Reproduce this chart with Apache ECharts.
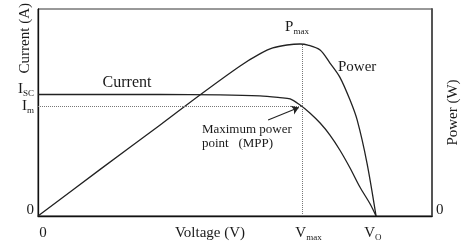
<!DOCTYPE html>
<html>
<head>
<meta charset="utf-8">
<script src="https://cdn.jsdelivr.net/npm/echarts@6/dist/echarts.min.js"></script>
<style>
  html, body { margin: 0; padding: 0; background: #fff; }
  #chart { width: 470px; height: 246px; }
</style>
</head>
<body>
<div id="chart"></div>
<script>
// curves (arbitrary units, axes run 0..100)
const voltageI = [0, 15.7, 31, 46.2, 56.3, 61.4, 64, 66.5, 69, 71.6, 74.1, 76.6, 79.2, 81.7, 84.3, 85.8]
const current  = [58.7, 58.7, 58.7, 58.5, 58.0, 57.2, 56.6, 53.6, 49.8, 44.9, 39.1, 31.9, 23.2, 14.0, 5.8, 0]
const voltageP = [0, 15.7, 31, 41.1, 51.3, 56.3, 59.6, 63.2, 66.5, 68.5, 71.6, 74.1, 76.6, 79.2, 81, 83.5, 85.8]
const power    = [0, 22.4, 44, 58.5, 72.5, 78.3, 81.2, 82.6, 83.1, 82.6, 80.2, 73.9, 67.1, 56, 46.4, 25.6, 0]

const VMAX = 67, VO = 86, ISC = 58.5, IM = 53, PMAX = 83

const xTicks      = [0, VMAX, VO]
const xTickLabels = ['{gl| }{t|0}', '{gm| }{t|V}{s|max}', '{t|V}{s|O}{gs| }']
const yTicks      = [0, IM, ISC]
const yTickLabels = ['{t|0}\n{lift| }', '{t|I}{s|m}', '{t|I}{s|SC}\n{lift| }']

const SERIF = '"Liberation Serif", "DejaVu Serif", serif'
const INK = '#1a1a1a'

const rich = {
  t:    { fontFamily: SERIF, fontSize: 15, color: INK, lineHeight: 18 },
  s:    { fontFamily: SERIF, fontSize: 9,  color: INK, lineHeight: 10, verticalAlign: 'bottom' },
  lift: { fontSize: 1, lineHeight: 12, height: 12 },
  gl:   { fontSize: 1, width: 10 },
  gm:   { fontSize: 1, width: 13 },
  gs:   { fontSize: 1, width: 8 },
  gp:   { fontSize: 1, width: 10 },
}

function pickLabel(ticks, labels) {
  return v => {
    const i = ticks.findIndex(t => Math.abs(t - v) < 1e-6)
    return i < 0 ? '' : labels[i]
  }
}

const chart = echarts.init(document.getElementById('chart'), null, { renderer: 'canvas' })

const option = {
  animation: false,
  backgroundColor: '#fff',
  grid: { left: 38, right: 38, top: 9, bottom: 30, outerBoundsMode: 'none', containLabel: false,
          show: true, borderColor: '#333', borderWidth: 1 },
  xAxis: {
    type: 'value', min: 0, max: 100, interval: 1,
    name: 'Voltage (V)', nameLocation: 'middle', nameGap: 10, nameMoveOverlap: false,
    nameTextStyle: { fontFamily: SERIF, fontSize: 15, color: INK, verticalAlign: 'top', padding: [0, 50, 0, 0] },
    axisLine: { lineStyle: { color: '#111', width: 1.3 } },
    axisTick: { show: false },
    splitLine: { show: false },
    axisLabel: { margin: 8, formatter: pickLabel(xTicks, xTickLabels), rich },
  },
  yAxis: [{
    type: 'value', min: 0, max: 100, interval: 0.5,
    name: 'Current (A)', nameLocation: 'end', nameRotate: 90, nameGap: 6, nameMoveOverlap: false,
    nameTextStyle: { fontFamily: SERIF, fontSize: 15, color: INK, align: 'right', verticalAlign: 'bottom', padding: [0, 0, 5, 0] },
    axisLine: { lineStyle: { color: '#111', width: 1.3 } },
    axisTick: { show: false },
    splitLine: { show: false },
    axisLabel: { margin: 4, formatter: pickLabel(yTicks, yTickLabels), rich },
  }, {
    type: 'value', min: 0, max: 100, interval: 100, position: 'right',
    name: 'Power (W)', nameLocation: 'middle', nameRotate: 90, nameGap: 14, nameMoveOverlap: false,
    nameTextStyle: { fontFamily: SERIF, fontSize: 15, color: INK },
    axisLine: { show: true, lineStyle: { color: '#555', width: 2 } },
    axisTick: { show: false },
    splitLine: { show: false },
    axisLabel: { margin: 4, formatter: v => (v === 0 ? '{t|0}\n{lift| }' : ''), rich },
  }],
  series: [{
    name: 'Current', type: 'line', yAxisIndex: 0, smooth: 0.3, symbol: 'none', silent: true,
    data: voltageI.map((v, i) => [v, current[i]]),
    lineStyle: { color: '#222', width: 1.3 },
    markLine: {
      silent: true, symbol: 'none', label: { show: false },
      lineStyle: { color: '#777', type: 'dotted', width: 1 },
      data: [
        [{ coord: [0, IM] }, { coord: [VMAX, IM] }],
        [{ coord: [58.4, 46.4], symbol: 'none', lineStyle: { color: '#222', type: 'solid', width: 1.1 } },
         { coord: [66.2, 52.4], symbol: 'arrow', symbolSize: 7 }],
      ],
    },
    markPoint: {
      silent: true, symbol: 'circle', symbolSize: 0, itemStyle: { color: 'transparent' },
      data: [
        { coord: [22.6, 64.3], label: { show: true, position: 'inside', formatter: 'Current', fontFamily: SERIF, fontSize: 16, color: INK } },
        { coord: [41.6, 38.2], label: { show: true, position: 'right', distance: 0, align: 'left', lineHeight: 14,
          formatter: 'Maximum power\npoint   (MPP)', fontFamily: SERIF, fontSize: 13, color: INK } },
      ],
    },
  }, {
    name: 'Power', type: 'line', yAxisIndex: 1, smooth: 0.3, symbol: 'none', silent: true,
    data: voltageP.map((v, i) => [v, power[i]]),
    lineStyle: { color: '#222', width: 1.3 },
    markLine: {
      silent: true, symbol: 'none', label: { show: false },
      lineStyle: { color: '#777', type: 'dotted', width: 1 },
      data: [[{ coord: [VMAX, 0] }, { coord: [VMAX, PMAX] }]],
    },
    markPoint: {
      silent: true, symbol: 'circle', symbolSize: 0, itemStyle: { color: 'transparent' },
      data: [
        { coord: [VMAX, PMAX], label: { show: true, position: 'top', distance: 8, formatter: '{t|P}{s|max}{gp| }', rich } },
        { coord: [81, 72], label: { show: true, position: 'inside', formatter: 'Power', fontFamily: SERIF, fontSize: 15, color: INK } },
      ],
    },
  }],
}

chart.setOption(option)
</script>
</body>
</html>
